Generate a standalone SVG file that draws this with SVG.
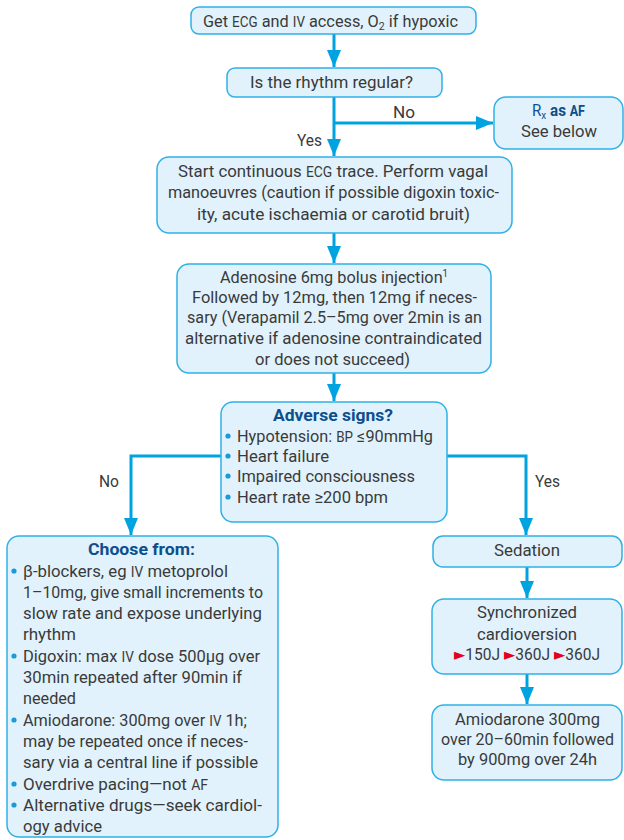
<svg xmlns="http://www.w3.org/2000/svg" width="624" height="840" viewBox="0 0 624 840">
<style>
.box{fill:#e1f2fc;stroke:#2fb0e6;stroke-width:1.5}
.t{font-family:Roboto,"Liberation Sans",sans-serif;font-size:17px;fill:#3a3a3a}
.h{font-weight:bold;fill:#0d4f8c}
.sc{font-size:14px}
.conn{stroke:#00a3e0;stroke-width:3;fill:none}
.bul{fill:#1a9ad6}
.red{fill:#e2001a;font-family:"DejaVu Sans",sans-serif;font-size:16px}
</style>
<defs>
<marker id="ah" markerUnits="userSpaceOnUse" markerWidth="17" markerHeight="14" refX="17" refY="7" orient="auto">
<path d="M0,0 L17,7 L0,14 z" fill="#00a3e0"/>
</marker>
</defs>
<rect width="624" height="840" fill="#ffffff"/>
<g id="connectors">
<line class="conn" x1="334" y1="34" x2="334" y2="67" marker-end="url(#ah)"/>
<line class="conn" x1="334" y1="97" x2="334" y2="156" marker-end="url(#ah)"/>
<line class="conn" x1="334" y1="123" x2="493" y2="123" marker-end="url(#ah)"/>
<line class="conn" x1="334" y1="233" x2="334" y2="263" marker-end="url(#ah)"/>
<line class="conn" x1="334" y1="373" x2="334" y2="401" marker-end="url(#ah)"/>
<polyline class="conn" points="221,456 131,456 131,535" marker-end="url(#ah)"/>
<polyline class="conn" points="447,456 526,456 526,535" marker-end="url(#ah)"/>
<line class="conn" x1="527" y1="567" x2="527" y2="598" marker-end="url(#ah)"/>
<line class="conn" x1="527" y1="674" x2="527" y2="704" marker-end="url(#ah)"/>
<text class="t" x="393" y="118" textLength="22" lengthAdjust="spacingAndGlyphs">No</text>
<text class="t" x="297" y="146" textLength="25" lengthAdjust="spacingAndGlyphs">Yes</text>
<text class="t" x="99" y="487" textLength="20" lengthAdjust="spacingAndGlyphs">No</text>
<text class="t" x="535" y="487" textLength="25" lengthAdjust="spacingAndGlyphs">Yes</text>
</g>
<g id="n1">
<rect class="box" x="191" y="7" width="285" height="27" rx="8"/>
<text class="t" x="203" y="27" textLength="255" lengthAdjust="spacingAndGlyphs">Get <tspan class="sc">ECG</tspan> and <tspan class="sc">IV</tspan> access, O<tspan font-size="11" baseline-shift="-3">2</tspan> if hypoxic</text>
</g>
<g id="n2">
<rect class="box" x="227" y="68" width="215" height="29" rx="8"/>
<text class="t" x="250" y="88" textLength="163" lengthAdjust="spacingAndGlyphs">Is the rhythm regular?</text>
</g>
<g id="n3">
<rect class="box" x="494" y="97" width="129" height="52" rx="12"/>
<text class="t h" x="532" y="116" textLength="53" lengthAdjust="spacingAndGlyphs"><tspan font-weight="normal">R</tspan><tspan font-size="11" font-weight="normal" baseline-shift="-3">x</tspan> as <tspan class="sc">AF</tspan></text>
<text class="t" x="521" y="137" textLength="76" lengthAdjust="spacingAndGlyphs">See below</text>
</g>
<g id="n4">
<rect class="box" x="157" y="157" width="355" height="76" rx="12"/>
<text class="t" x="178" y="177" textLength="310" lengthAdjust="spacingAndGlyphs">Start continuous <tspan class="sc">ECG</tspan> trace. Perform vagal</text>
<text class="t" x="168" y="198" textLength="331" lengthAdjust="spacingAndGlyphs">manoeuvres (caution if possible digoxin toxic-</text>
<text class="t" x="197" y="220" textLength="273" lengthAdjust="spacingAndGlyphs">ity, acute ischaemia or carotid bruit)</text>
</g>
<g id="n5">
<rect class="box" x="177" y="264" width="314" height="109" rx="12"/>
<text class="t" x="220" y="283" textLength="228" lengthAdjust="spacingAndGlyphs">Adenosine 6mg bolus injection<tspan font-size="10" baseline-shift="6">1</tspan></text>
<text class="t" x="192" y="303" textLength="285" lengthAdjust="spacingAndGlyphs">Followed by 12mg, then 12mg if neces-</text>
<text class="t" x="187" y="323" textLength="295" lengthAdjust="spacingAndGlyphs">sary (Verapamil 2.5–5mg over 2min is an</text>
<text class="t" x="185" y="344" textLength="297" lengthAdjust="spacingAndGlyphs">alternative if adenosine contraindicated</text>
<text class="t" x="255" y="365" textLength="155" lengthAdjust="spacingAndGlyphs">or does not succeed)</text>
</g>
<g id="n6">
<rect class="box" x="221" y="402" width="226" height="120" rx="12"/>
<text class="t h" x="273" y="421" textLength="120" lengthAdjust="spacingAndGlyphs">Adverse signs?</text>
<circle class="bul" cx="228" cy="436" r="2.6"/>
<circle class="bul" cx="228" cy="456" r="2.6"/>
<circle class="bul" cx="228" cy="476" r="2.6"/>
<circle class="bul" cx="228" cy="497" r="2.6"/>
<text class="t" x="237" y="442" textLength="196" lengthAdjust="spacingAndGlyphs">Hypotension: <tspan class="sc">BP</tspan> ≤90mmHg</text>
<text class="t" x="237" y="462" textLength="92" lengthAdjust="spacingAndGlyphs">Heart failure</text>
<text class="t" x="237" y="482" textLength="178" lengthAdjust="spacingAndGlyphs">Impaired consciousness</text>
<text class="t" x="237" y="503" textLength="151" lengthAdjust="spacingAndGlyphs">Heart rate ≥200 bpm</text>
</g>
<g id="n7">
<rect class="box" x="7" y="536" width="271" height="301" rx="12"/>
<text class="t h" x="88" y="555" textLength="107" lengthAdjust="spacingAndGlyphs">Choose from:</text>
<circle class="bul" cx="14" cy="571" r="2.6"/>
<circle class="bul" cx="14" cy="656" r="2.6"/>
<circle class="bul" cx="14" cy="720" r="2.6"/>
<circle class="bul" cx="14" cy="784" r="2.6"/>
<circle class="bul" cx="14" cy="805" r="2.6"/>
<text class="t" x="23" y="577" textLength="205" lengthAdjust="spacingAndGlyphs">β-blockers, eg <tspan class="sc">IV</tspan> metoprolol</text>
<text class="t" x="23" y="598" textLength="240" lengthAdjust="spacingAndGlyphs">1–10mg, give small increments to</text>
<text class="t" x="23" y="619" textLength="239" lengthAdjust="spacingAndGlyphs">slow rate and expose underlying</text>
<text class="t" x="23" y="640" textLength="53" lengthAdjust="spacingAndGlyphs">rhythm</text>
<text class="t" x="23" y="662" textLength="237" lengthAdjust="spacingAndGlyphs">Digoxin: max <tspan class="sc">IV</tspan> dose 500μg over</text>
<text class="t" x="23" y="683" textLength="219" lengthAdjust="spacingAndGlyphs">30min repeated after 90min if</text>
<text class="t" x="23" y="704" textLength="53" lengthAdjust="spacingAndGlyphs">needed</text>
<text class="t" x="23" y="726" textLength="224" lengthAdjust="spacingAndGlyphs">Amiodarone: 300mg over <tspan class="sc">IV</tspan> 1h;</text>
<text class="t" x="23" y="747" textLength="225" lengthAdjust="spacingAndGlyphs">may be repeated once if neces-</text>
<text class="t" x="23" y="768" textLength="235" lengthAdjust="spacingAndGlyphs">sary via a central line if possible</text>
<text class="t" x="23" y="790" textLength="185" lengthAdjust="spacingAndGlyphs">Overdrive pacing—not <tspan class="sc">AF</tspan></text>
<text class="t" x="23" y="811" textLength="239" lengthAdjust="spacingAndGlyphs">Alternative drugs—seek cardiol-</text>
<text class="t" x="23" y="832" textLength="79" lengthAdjust="spacingAndGlyphs">ogy advice</text>
</g>
<g id="n8">
<rect class="box" x="433" y="536" width="189" height="31" rx="10"/>
<text class="t" x="494" y="556" textLength="66" lengthAdjust="spacingAndGlyphs">Sedation</text>
</g>
<g id="n9">
<rect class="box" x="432" y="599" width="190" height="75" rx="12"/>
<text class="t" x="477" y="618" textLength="100" lengthAdjust="spacingAndGlyphs">Synchronized</text>
<text class="t" x="477" y="640" textLength="100" lengthAdjust="spacingAndGlyphs">cardioversion</text>
<text class="t" x="454" y="660" textLength="146" lengthAdjust="spacingAndGlyphs"><tspan class="red">►</tspan>150J <tspan class="red">►</tspan>360J <tspan class="red">►</tspan>360J</text>
</g>
<g id="n10">
<rect class="box" x="432" y="705" width="190" height="75" rx="12"/>
<text class="t" x="455" y="725" textLength="145" lengthAdjust="spacingAndGlyphs">Amiodarone 300mg</text>
<text class="t" x="441" y="745" textLength="173" lengthAdjust="spacingAndGlyphs">over 20–60min followed</text>
<text class="t" x="458" y="765" textLength="139" lengthAdjust="spacingAndGlyphs">by 900mg over 24h</text>
</g>
</svg>
